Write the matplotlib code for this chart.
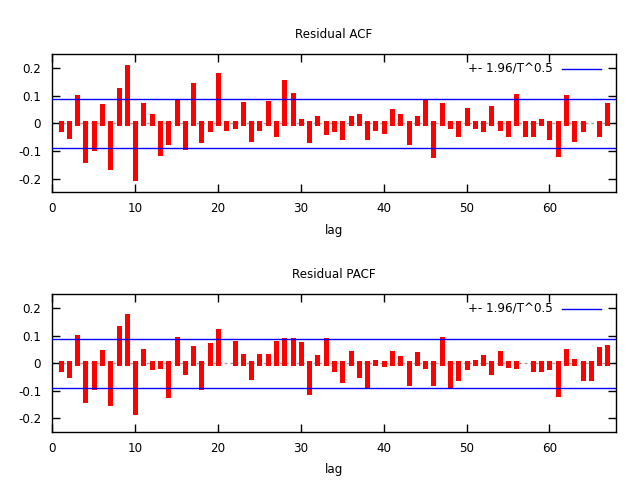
import matplotlib
matplotlib.use('Agg')
import matplotlib.pyplot as plt
import numpy as np

FONT_SIZE = 8.6

# residual autocorrelations, lags 1..67
lags = list(range(1, 68))
acf = [-0.019, -0.044, 0.094, -0.132, -0.090, 0.061, -0.157, 0.119, 0.203, -0.197,
       0.065, 0.025, -0.106, -0.066, 0.077, -0.087, 0.138, -0.059, -0.019, 0.174,
       -0.015, -0.008, 0.069, -0.055, -0.015, 0.072, -0.037, 0.148, 0.101, 0.007,
       -0.059, 0.018, -0.030, -0.019, -0.048, 0.018, 0.025, -0.048, -0.015, -0.026,
       0.043, 0.028, -0.066, 0.018, 0.079, -0.114, 0.065, -0.008, -0.037, 0.050,
       -0.008, -0.019, 0.054, -0.015, -0.040, 0.098, -0.037, -0.040, 0.010, -0.048,
       -0.110, 0.094, -0.055, -0.019, 0.002, -0.040, 0.065]
pacf = [-0.019, -0.044, 0.094, -0.132, -0.087, 0.039, -0.143, 0.127, 0.170, -0.175,
        0.043, -0.015, -0.011, -0.114, 0.087, -0.033, 0.054, -0.087, 0.065, 0.116,
        0.002, 0.072, 0.025, -0.048, 0.028, 0.028, 0.072, 0.083, 0.083, 0.069,
        -0.103, 0.021, 0.083, -0.019, -0.062, 0.036, -0.044, -0.077, 0.003, -0.003,
        0.036, 0.018, -0.073, 0.032, -0.011, -0.070, 0.087, -0.081, -0.055, -0.015,
        0.003, 0.021, -0.030, 0.036, -0.005, -0.011, 0.001, -0.022, -0.022, -0.015,
        -0.110, 0.043, 0.007, -0.052, -0.052, 0.050, 0.058]
conf_band = 0.0891  # 1.96/sqrt(T)

titles = ["Residual ACF", "Residual PACF"]
legend_label = "+- 1.96/T^0.5"

plt.rcParams['font.size'] = FONT_SIZE
fig = plt.figure(figsize=(6.4, 4.8), dpi=100)

#axes boxes in figure fractions (left, bottom, width, height)
boxes = [[0.0817, 0.599, 0.8803, 0.288], [0.0817, 0.0994, 0.8803, 0.2876]]

for box, title, values in zip(boxes, titles, [acf, pacf]):
    ax = fig.add_axes(box)
    ax.set_xlim(0, 68)
    ax.set_ylim(-0.25, 0.25)

    #zero line
    ax.axhline(0, color='#a0a0a0', lw=1, ls=(0, (2, 2)), zorder=1)

    #impulses
    ax.vlines(lags, 0, values, colors='#ff0000', lw=3.6, capstyle='projecting', zorder=2)

    #confidence band
    ax.axhline(conf_band, color='#0000ff', lw=1, zorder=3)
    ax.axhline(-conf_band, color='#0000ff', lw=1, zorder=3)

    #legend, gnuplot style
    ax.text(0.889, 0.893, legend_label, transform=ax.transAxes, ha='right', va='center',
            fontsize=FONT_SIZE)
    ax.plot([0.905, 0.974], [0.893, 0.893], color='#0000ff', lw=1, transform=ax.transAxes)

    ax.set_xticks(np.arange(0, 61, 10))
    ax.set_yticks([-0.2, -0.1, 0, 0.1, 0.2])
    ax.set_yticklabels(["-0.2", "-0.1", "0", "0.1", "0.2"])
    ax.tick_params(direction='in', length=6, width=1, top=True, right=True, pad=8,
                   labelsize=FONT_SIZE)
    ax.tick_params(axis='x', pad=7)
    for spine in ax.spines.values():
        spine.set_linewidth(1)
    ax.set_xlabel("lag", fontsize=FONT_SIZE, labelpad=6)
    ax.set_title(title, fontsize=FONT_SIZE, pad=12)

fig.savefig("out.png", dpi=100)
